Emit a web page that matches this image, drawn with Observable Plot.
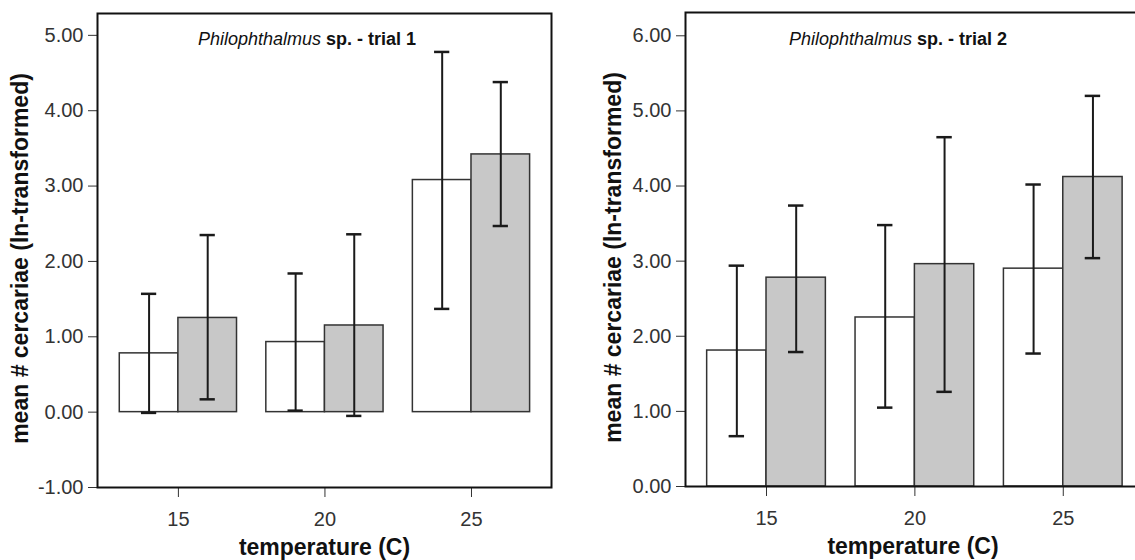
<!DOCTYPE html>
<html><head><meta charset="utf-8">
<script src="https://cdn.jsdelivr.net/npm/d3@7"></script>
<script src="https://cdn.jsdelivr.net/npm/@observablehq/plot@0.6"></script>
<style>
html,body{margin:0;padding:0;background:#fff;overflow:hidden}
#wrap{position:relative;width:1135px;height:560px;overflow:hidden;background:#fff}
#wrap svg{max-width:none !important}
</style></head><body>
<div id="wrap"><div id="p1" style="position:absolute;left:0;top:0;width:570px"></div><div id="p2" style="position:absolute;left:570px;top:0;width:575px"></div></div>
<script>
// ---- data ----
const temperatures = [15, 20, 25];
const groups = ["open", "shaded"];

const trial1OpenMean  = [0.78, 0.93, 3.08];
const trial1OpenLow   = [-0.01, 0.02, 1.37];
const trial1OpenHigh  = [1.57, 1.84, 4.78];
const trial1ShadedMean = [1.25, 1.15, 3.42];
const trial1ShadedLow  = [0.17, -0.05, 2.47];
const trial1ShadedHigh = [2.35, 2.36, 4.38];

const trial2OpenMean  = [1.81, 2.25, 2.90];
const trial2OpenLow   = [0.67, 1.05, 1.77];
const trial2OpenHigh  = [2.94, 3.48, 4.02];
const trial2ShadedMean = [2.78, 2.96, 4.12];
const trial2ShadedLow  = [1.79, 1.26, 3.04];
const trial2ShadedHigh = [3.74, 4.65, 5.20];

const trial1YTicks = [-1, 0, 1, 2, 3, 4, 5];
const trial2YTicks = [0, 1, 2, 3, 4, 5, 6];

const yLabel = "mean # cercariae (ln-transformed)";
const xLabel = "temperature (C)";
const titleGenus = "Philophthalmus";
const trialTitles = [" sp. - trial 1", " sp. - trial 2"];

// ---- build tables ----
function buildRows(openMean, openLow, openHigh, shMean, shLow, shHigh) {
  const out = [];
  temperatures.forEach((t, i) => {
    out.push({temp: t, group: groups[0], mean: openMean[i], low: openLow[i], high: openHigh[i]});
    out.push({temp: t, group: groups[1], mean: shMean[i], low: shLow[i], high: shHigh[i]});
  });
  return out;
}
const trial1 = buildRows(trial1OpenMean, trial1OpenLow, trial1OpenHigh, trial1ShadedMean, trial1ShadedLow, trial1ShadedHigh);
const trial2 = buildRows(trial2OpenMean, trial2OpenLow, trial2OpenHigh, trial2ShadedMean, trial2ShadedLow, trial2ShadedHigh);

const barW = 2;      // width of one bar in temperature units
const capHalf = 0.26;
const left = d => d.group === groups[0] ? d.temp - barW : d.temp;
const center = d => left(d) + barW / 2;

function panel(o) {
  const svg = Plot.plot({
    width: o.width, height: 560,
    marginLeft: o.marginLeft, marginRight: o.marginRight,
    marginTop: o.marginTop, marginBottom: o.marginBottom,
    style: {fontFamily: "'Liberation Sans', Arial, sans-serif", fontSize: "20px", color: "#333", background: "transparent"},
    x: {domain: o.xDomain, ticks: temperatures, tickFormat: d => String(d), tickSize: 10, tickPadding: 14, label: null},
    y: {domain: o.yDomain, ticks: o.yTicks, tickFormat: d => d.toFixed(2), tickSize: 9, tickPadding: 5, label: null},
    marks: [
      Plot.rect(o.data, {x1: left, x2: d => left(d) + barW, y1: 0, y2: "mean",
        fill: d => d.group === groups[0] ? "#ffffff" : "#c8c8c8", stroke: "#333", strokeWidth: 1.5}),
      Plot.ruleX(o.data, {x: center, y1: "low", y2: "high", stroke: "#1a1a1a", strokeWidth: 2}),
      Plot.ruleY(o.data, {y: "high", x1: d => center(d) - capHalf, x2: d => center(d) + capHalf, stroke: "#1a1a1a", strokeWidth: 2.5}),
      Plot.ruleY(o.data, {y: "low", x1: d => center(d) - capHalf, x2: d => center(d) + capHalf, stroke: "#1a1a1a", strokeWidth: 2.5}),
      Plot.frame({stroke: "#111", strokeWidth: 2}),
      Plot.text([yLabel], {text: d => d, frameAnchor: "left", dx: o.yLabelDx, dy: 8, rotate: -90,
        fontSize: 23, fontWeight: "bold", fill: "#111", textAnchor: "middle", lineAnchor: "middle"}),
      Plot.text([xLabel], {text: d => d, frameAnchor: "bottom", dx: o.xLabelDx, dy: 60,
        fontSize: 23, fontWeight: "bold", fill: "#111", textAnchor: "middle", lineAnchor: "middle"})
    ]
  });
  const t = d3.select(svg).append("text")
    .attr("x", o.titleX).attr("y", 45)
    .attr("font-size", 18).attr("fill", "#111")
    .attr("text-anchor", "start")
    .attr("font-family", "'Liberation Sans', Arial, sans-serif");
  t.append("tspan").attr("font-style", "italic").text(titleGenus);
  t.append("tspan").attr("font-weight", "bold").text(o.title);
  return svg;
}

document.getElementById("p1").append(panel({
  data: trial1, width: 570, marginLeft: 97, marginRight: 19, marginTop: 13, marginBottom: 73,
  xDomain: [12.24, 27.73], yDomain: [-1, 5.29], yTicks: trial1YTicks,
  title: trialTitles[0], titleX: 198, yLabelDx: -77, xLabelDx: 0
}));
document.getElementById("p2").append(panel({
  data: trial2, width: 575, marginLeft: 115, marginRight: 3, marginTop: 12, marginBottom: 74,
  xDomain: [12.27, 27.67], yDomain: [0, 6.31], yTicks: trial2YTicks,
  title: trialTitles[1], titleX: 219, yLabelDx: -72, xLabelDx: -1
}));
</script>
</body></html>
